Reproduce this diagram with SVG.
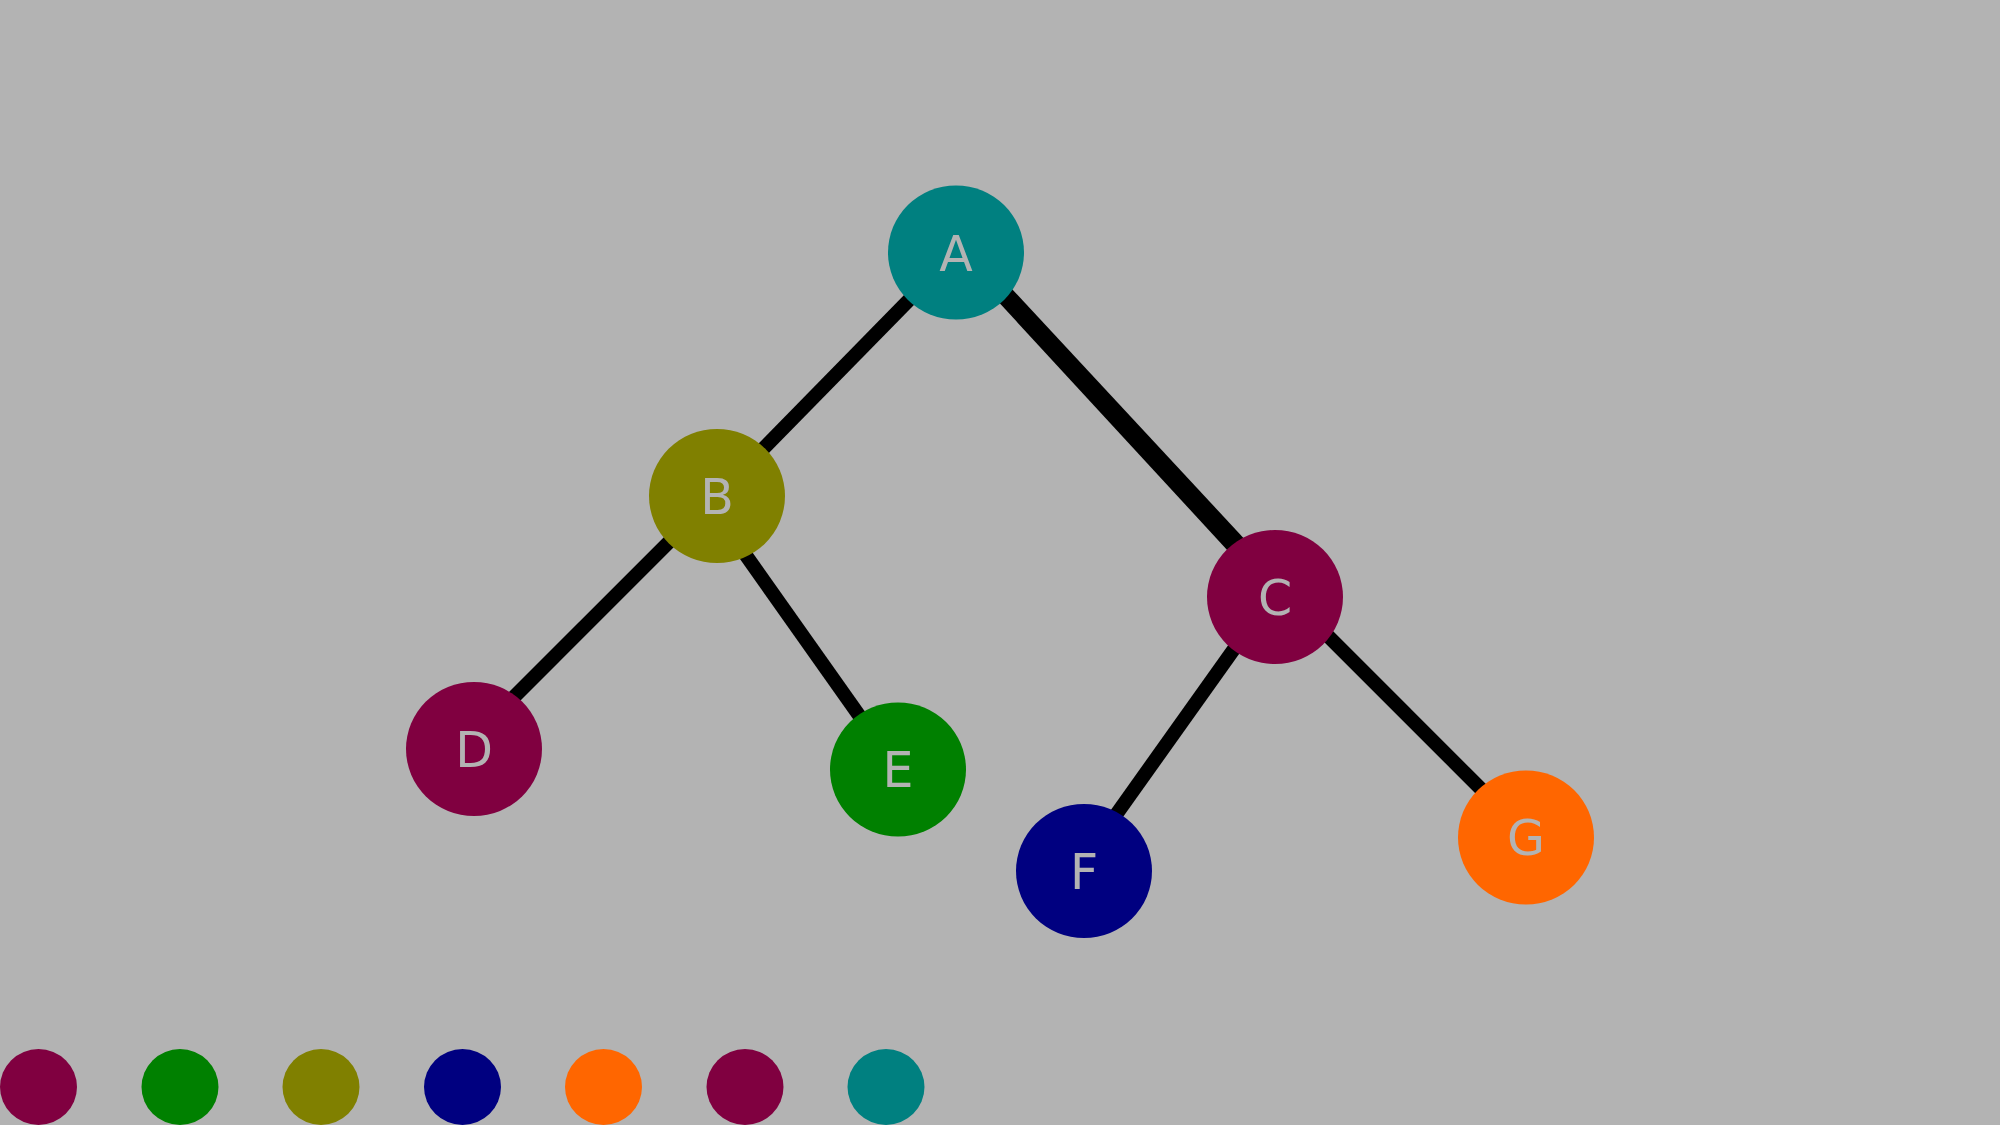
<svg xmlns="http://www.w3.org/2000/svg" width="2000" height="1125" viewBox="0 0 2000 1125">
<style>
.edge{stroke:#000;stroke-width:14;fill:none}
.lbl{font-family:"DejaVu Sans",sans-serif;font-size:49px;fill:#b3b3b3;text-anchor:middle}
</style>
<rect x="0" y="0" width="2000" height="1125" fill="#b3b3b3"/>
<g id="connectors">
<line class="edge" x1="956" y1="252" x2="717" y2="496"/>
<line class="edge" x1="962" y1="252" x2="1280" y2="597"/>
<line class="edge" x1="968" y1="252" x2="1286" y2="594"/>
<line class="edge" x1="715" y1="496" x2="462" y2="749"/>
<line class="edge" x1="704" y1="496" x2="897" y2="769"/>
<line class="edge" x1="1271" y1="597" x2="1076" y2="871"/>
<line class="edge" x1="1289" y1="597" x2="1529" y2="837"/>
</g>
<g id="node-A"><ellipse cx="956" cy="252.5" rx="68" ry="67" fill="#008080"/><text class="lbl" x="956" y="271">A</text></g>
<g id="node-B"><ellipse cx="717" cy="496" rx="68" ry="67" fill="#808000"/><text class="lbl" x="717" y="514">B</text></g>
<g id="node-C"><ellipse cx="1275" cy="597" rx="68" ry="67" fill="#800040"/><text class="lbl" x="1275" y="615">C</text></g>
<g id="node-D"><ellipse cx="474" cy="749" rx="68" ry="67" fill="#800040"/><text class="lbl" x="474" y="767">D</text></g>
<g id="node-E"><ellipse cx="898" cy="769.5" rx="68" ry="67" fill="#008000"/><text class="lbl" x="898" y="787">E</text></g>
<g id="node-F"><ellipse cx="1084" cy="871" rx="68" ry="67" fill="#000080"/><text class="lbl" x="1084" y="889">F</text></g>
<g id="node-G"><ellipse cx="1526" cy="837.5" rx="68" ry="67" fill="#ff6600"/><text class="lbl" x="1526" y="855">G</text></g>
<g id="legend">
<ellipse cx="38.5" cy="1087" rx="38.5" ry="38" fill="#800040"/>
<ellipse cx="180" cy="1087" rx="38.5" ry="38" fill="#008000"/>
<ellipse cx="321" cy="1087" rx="38.5" ry="38" fill="#808000"/>
<ellipse cx="462.5" cy="1087" rx="38.5" ry="38" fill="#000080"/>
<ellipse cx="603.5" cy="1087" rx="38.5" ry="38" fill="#ff6600"/>
<ellipse cx="745" cy="1087" rx="38.5" ry="38" fill="#800040"/>
<ellipse cx="886" cy="1087" rx="38.5" ry="38" fill="#008080"/>
</g>
</svg>
